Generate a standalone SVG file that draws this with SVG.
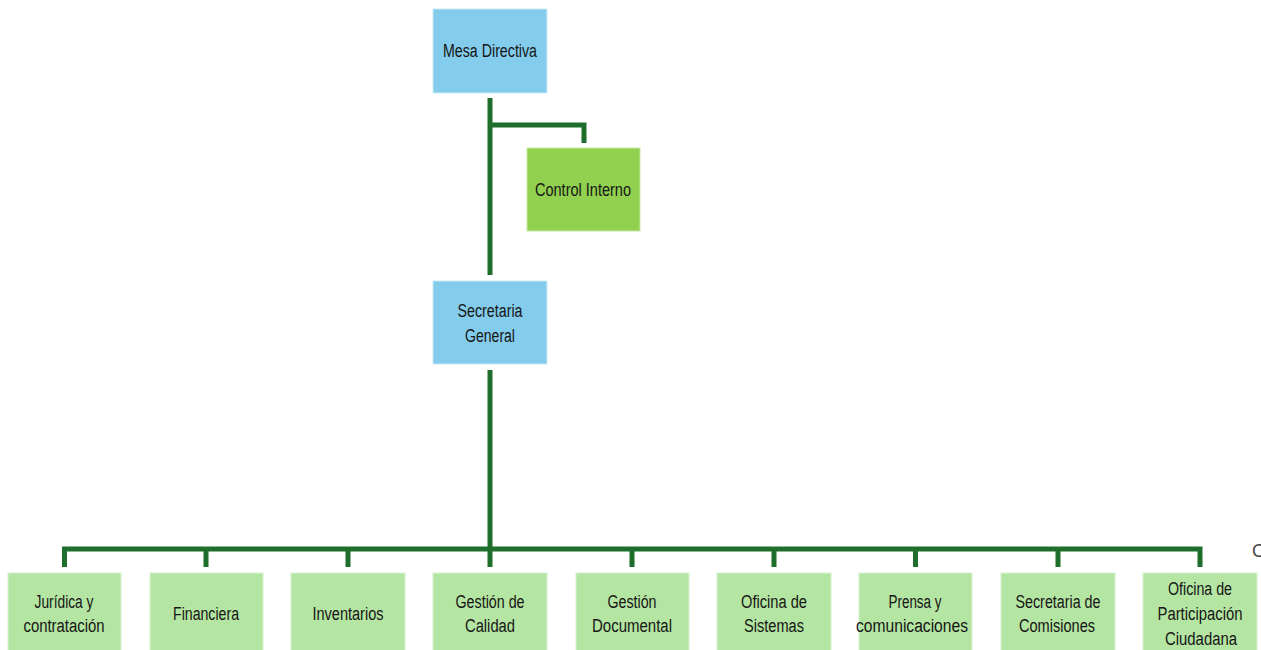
<svg xmlns="http://www.w3.org/2000/svg" width="1261" height="650" viewBox="0 0 1261 650">
<style>
.blue{fill:#83CCEB;stroke:#cfeaf6;stroke-width:1}
.lime{fill:#92D050;stroke:#c9e8a6;stroke-width:1}
.pale{fill:#B4E5A2;stroke:#d8f0cf;stroke-width:1}
.t{font-family:"Liberation Sans",Arial,sans-serif;font-size:18px;fill:#161616;text-anchor:middle}
.c{fill:none;stroke:#1F6E2B;stroke-width:5;stroke-linecap:butt;stroke-linejoin:miter}
</style>
<rect width="1261" height="650" fill="#ffffff"/>
<g id="connectors">
<path class="c" d="M490 98 V275"/>
<path class="c" d="M490 125 H584 V143"/>
<path class="c" d="M490 370 V549"/>
<path class="c" d="M64.5 567 V549 H1200 V567"/>
<path class="c" d="M206 549 V567 M348 549 V567 M490 549 V567 M632 549 V567 M774 549 V567 M915.5 549 V567 M1058 549 V567"/>
</g>
<g id="mesa-directiva">
<rect class="blue" x="433" y="9" width="114" height="84"/>
<text class="t" x="490" y="57" textLength="94" lengthAdjust="spacingAndGlyphs">Mesa Directiva</text>
</g>
<g id="control-interno">
<rect class="lime" x="527" y="148" width="113" height="83"/>
<text class="t" x="583" y="196" textLength="96" lengthAdjust="spacingAndGlyphs">Control Interno</text>
</g>
<g id="secretaria-general">
<rect class="blue" x="433" y="281" width="114" height="83"/>
<text class="t" x="490" y="317" textLength="65" lengthAdjust="spacingAndGlyphs">Secretaria</text>
<text class="t" x="490" y="342" textLength="50" lengthAdjust="spacingAndGlyphs">General</text>
</g>
<g id="juridica">
<rect class="pale" x="8" y="573" width="113" height="80"/>
<text class="t" x="64" y="608" textLength="59" lengthAdjust="spacingAndGlyphs">Jurídica y</text>
<text class="t" x="64" y="632" textLength="81" lengthAdjust="spacingAndGlyphs">contratación</text>
</g>
<g id="financiera">
<rect class="pale" x="150" y="573" width="113" height="80"/>
<text class="t" x="206" y="620" textLength="66" lengthAdjust="spacingAndGlyphs">Financiera</text>
</g>
<g id="inventarios">
<rect class="pale" x="291" y="573" width="114" height="80"/>
<text class="t" x="348" y="620" textLength="71" lengthAdjust="spacingAndGlyphs">Inventarios</text>
</g>
<g id="gestion-calidad">
<rect class="pale" x="433" y="573" width="114" height="80"/>
<text class="t" x="490" y="608" textLength="69" lengthAdjust="spacingAndGlyphs">Gestión de</text>
<text class="t" x="490" y="632" textLength="50" lengthAdjust="spacingAndGlyphs">Calidad</text>
</g>
<g id="gestion-documental">
<rect class="pale" x="576" y="573" width="113" height="80"/>
<text class="t" x="632" y="608" textLength="49" lengthAdjust="spacingAndGlyphs">Gestión</text>
<text class="t" x="632" y="632" textLength="80" lengthAdjust="spacingAndGlyphs">Documental</text>
</g>
<g id="oficina-sistemas">
<rect class="pale" x="717" y="573" width="114" height="80"/>
<text class="t" x="774" y="608" textLength="66" lengthAdjust="spacingAndGlyphs">Oficina de</text>
<text class="t" x="774" y="632" textLength="60" lengthAdjust="spacingAndGlyphs">Sistemas</text>
</g>
<g id="prensa">
<rect class="pale" x="859" y="573" width="113" height="80"/>
<text class="t" x="915" y="608" textLength="53" lengthAdjust="spacingAndGlyphs">Prensa y</text>
<text class="t" x="912" y="632" textLength="112" lengthAdjust="spacingAndGlyphs">comunicaciones</text>
</g>
<g id="secretaria-comisiones">
<rect class="pale" x="1001" y="573" width="114" height="80"/>
<text class="t" x="1058" y="608" textLength="85" lengthAdjust="spacingAndGlyphs">Secretaria de</text>
<text class="t" x="1057" y="632" textLength="76" lengthAdjust="spacingAndGlyphs">Comisiones</text>
</g>
<g id="oficina-participacion">
<rect class="pale" x="1143" y="573" width="114" height="80"/>
<text class="t" x="1200" y="595" textLength="64" lengthAdjust="spacingAndGlyphs">Oficina de</text>
<text class="t" x="1200" y="620" textLength="85" lengthAdjust="spacingAndGlyphs">Participación</text>
<text class="t" x="1201" y="645" textLength="72" lengthAdjust="spacingAndGlyphs">Ciudadana</text>
</g>
<text class="t" x="1252" y="557" style="text-anchor:start;fill:#444">C</text>
</svg>
